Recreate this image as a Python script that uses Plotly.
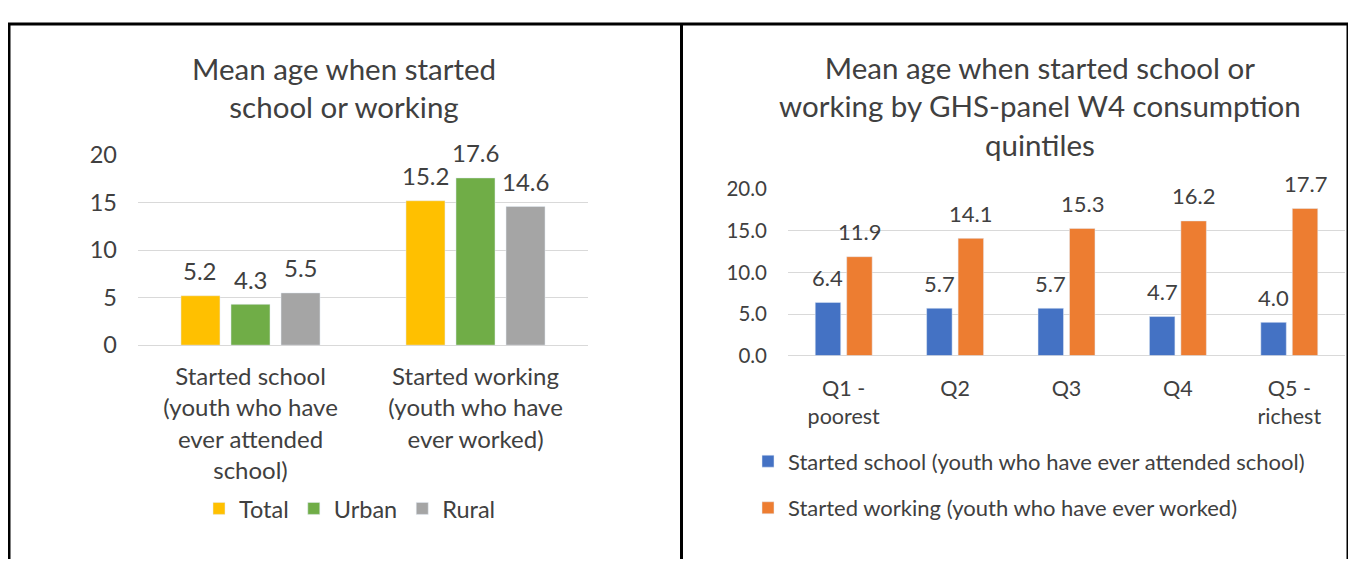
import plotly.graph_objects as go

# ---- data ---------------------------------------------------------------
left_title = "Mean age when started<br>school or working"
left_categories = [
    "Started school<br>(youth who have<br>ever attended<br>school)",
    "Started working<br>(youth who have<br>ever worked)",
]
left_names = ["Total", "Urban", "Rural"]
total = [5.2, 15.2]
urban = [4.3, 17.6]
rural = [5.5, 14.6]
left_ticks = [0, 5, 10, 15, 20]

right_title = ("Mean age when started school or<br>"
               "working by GHS-panel W4 consumption<br>quintiles")
right_categories = ["Q1 -<br>poorest", "Q2", "Q3", "Q4", "Q5 -<br>richest"]
right_names = ["Started school (youth who have ever attended school)",
               "Started working (youth who have ever worked)"]
started_school = [6.4, 5.7, 5.7, 4.7, 4.0]
started_working = [11.9, 14.1, 15.3, 16.2, 17.7]
right_ticks = [0, 5, 10, 15, 20]

# ---- style --------------------------------------------------------------
W, H = 1356, 564
FONT = "Lato"
TXT = "#404040"
GRID = "#D9D9D9"
LEFT_COLORS = ["#FFC000", "#70AD47", "#A5A5A5"]
RIGHT_COLORS = ["#4472C4", "#ED7D31"]


def px_x(x):
    return x / W


def px_y(y):
    return (H - y) / H


def slots(n, bargap, groupgap):
    """offset/width (category units) for n side-by-side bars"""
    slot = (1 - bargap) / n
    w = slot * (1 - groupgap)
    return [(-(1 - bargap) / 2 + i * slot + (slot - w) / 2, w) for i in range(n)]


fig = go.Figure()
annotations = []

# left chart
left_series = [total, urban, rural]
for (off, w), name, vals, col in zip(slots(3, 0.333, 0.22), left_names, left_series, LEFT_COLORS):
    fig.add_trace(go.Bar(
        x=list(range(len(left_categories))), y=vals, name=name,
        marker_color=col, width=w, offset=off,
        xaxis="x", yaxis="y", legend="legend"
    ))
    for i, v in enumerate(vals):
        annotations.append(dict(
            x=i + off + w / 2, y=v, xref="x", yref="y", text=f"{v:.1f}",
            showarrow=False, yanchor="middle", yshift=25,
            font=dict(family=FONT, size=24, color=TXT)
        ))

# right chart
right_series = [started_school, started_working]
for (off, w), name, vals, col in zip(slots(2, 0.435, 0.19), right_names, right_series, RIGHT_COLORS):
    fig.add_trace(go.Bar(
        x=list(range(len(right_categories))), y=vals, name=name,
        marker_color=col, width=w, offset=off,
        xaxis="x2", yaxis="y2", legend="legend2", legendgroup=name
    ))
    for i, v in enumerate(vals):
        annotations.append(dict(
            x=i + off + w / 2, y=v, xref="x2", yref="y2", text=f"{v:.1f}",
            showarrow=False, yanchor="middle", yshift=25,
            font=dict(family=FONT, size=22, color=TXT)
        ))

# titles
annotations.append(dict(
    x=px_x(336), y=px_y(67.5), xref="paper", yref="paper", text=left_title,
    showarrow=False, xanchor="center", yanchor="middle",
    font=dict(family=FONT, size=29.5, color=TXT)
))
annotations.append(dict(
    x=px_x(1032), y=px_y(87), xref="paper", yref="paper", text=right_title,
    showarrow=False, xanchor="center", yanchor="middle",
    font=dict(family=FONT, size=29.5, color=TXT)
))

# panel borders
border = dict(color="black", width=3)
shapes = [
    dict(type="line", xref="paper", yref="paper", x0=0, x1=px_x(1342),
         y0=px_y(1), y1=px_y(1), line=border),
    dict(type="line", xref="paper", yref="paper", x0=px_x(1), x1=px_x(1),
         y0=1, y1=0, line=border),
    dict(type="line", xref="paper", yref="paper", x0=px_x(673.5), x1=px_x(673.5),
         y0=px_y(1), y1=0, line=border),
    dict(type="line", xref="paper", yref="paper", x0=px_x(1340), x1=px_x(1340),
         y0=px_y(1), y1=0, line=border),
]

fig.update_layout(
    width=W, height=H,
    margin=dict(l=0, r=0, t=0, b=0),
    paper_bgcolor="white", plot_bgcolor="white",
    barmode="overlay",
    font=dict(family=FONT, color=TXT),
    annotations=annotations,
    shapes=shapes,
    xaxis=dict(
        domain=[px_x(130), px_x(580)], range=[-0.5, 1.5],
        tickmode="array", tickvals=list(range(len(left_categories))),
        ticktext=left_categories, showgrid=False, showline=False,
        ticks="", ticklabelstandoff=15, tickfont=dict(size=24, color=TXT)
    ),
    yaxis=dict(
        domain=[px_y(339), px_y(139)], range=[0, 20], tickvals=left_ticks,
        gridcolor=GRID, gridwidth=1, zeroline=True, zerolinecolor=GRID,
        zerolinewidth=1, showline=False, ticklabelstandoff=20,
        tickfont=dict(size=23.5, color=TXT)
    ),
    xaxis2=dict(
        domain=[px_x(780), px_x(1337)], range=[-0.5, 4.5], anchor="y2",
        tickmode="array", tickvals=list(range(len(right_categories))),
        ticktext=right_categories, showgrid=False, showline=False,
        ticks="", ticklabelstandoff=18, tickfont=dict(size=21.5, color=TXT)
    ),
    yaxis2=dict(
        domain=[px_y(350), px_y(175)], range=[0, 20], tickvals=right_ticks,
        tickformat=".1f", anchor="x2",
        gridcolor=GRID, gridwidth=1, zeroline=True, zerolinecolor=GRID,
        zerolinewidth=1, showline=False, ticklabelstandoff=20,
        tickfont=dict(size=20.5, color=TXT)
    ),
    legend=dict(
        orientation="h", x=px_x(342), xanchor="center",
        y=px_y(511), yanchor="middle", itemwidth=30,
        font=dict(family=FONT, size=23.5, color=TXT), bgcolor="rgba(0,0,0,0)"
    ),
    legend2=dict(
        orientation="v", x=px_x(740), xanchor="left",
        y=px_y(486), yanchor="middle", itemwidth=30, tracegroupgap=15,
        font=dict(family=FONT, size=22, color=TXT), bgcolor="rgba(0,0,0,0)"
    ),
)

fig.write_html("out.html")
